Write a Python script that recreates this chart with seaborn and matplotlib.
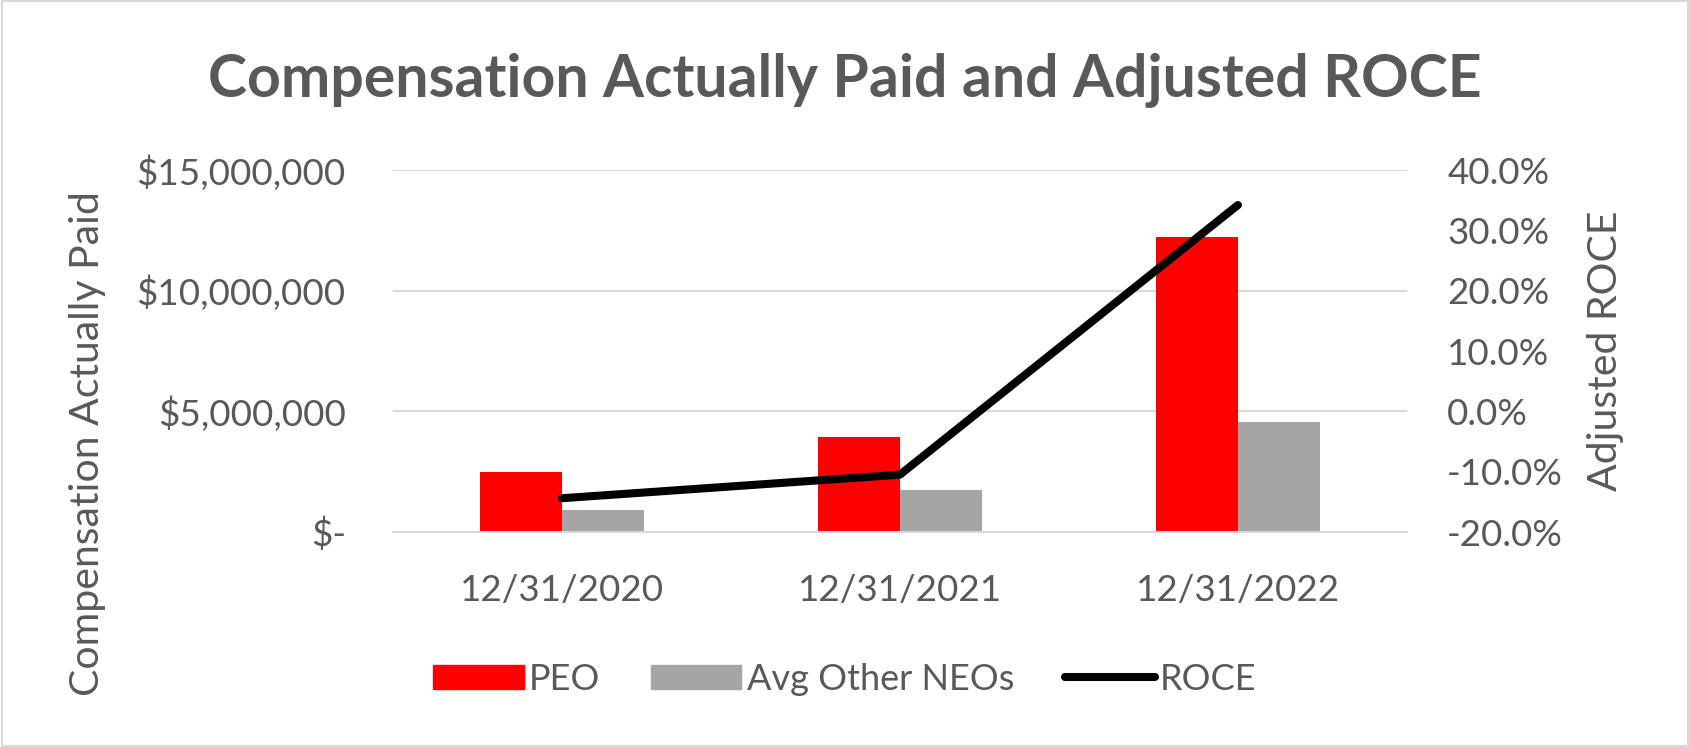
import matplotlib
matplotlib.use("Agg")
import matplotlib.pyplot as plt
import matplotlib.ticker as mtick
from matplotlib.patches import Rectangle
from matplotlib.lines import Line2D
import numpy as np
import pandas as pd
import seaborn as sns

# datos
fechas = ['12/31/2020', '12/31/2021', '12/31/2022']
peo = [2480000, 3930000, 12240000]
otros_neos = [900000, 1730000, 4540000]
roce = [-0.144, -0.105, 0.342]
series = ['PEO', 'Avg Other NEOs']
colores = ['#FF0000', '#A5A5A5']

texto = '#595959'
rejilla = '#D9D9D9'
tam = 26.5

sns.set_theme(style='white')
plt.rcParams['font.family'] = ['Lato', 'DejaVu Sans']
plt.rcParams['axes.unicode_minus'] = False

df = pd.DataFrame({
    'fecha': fechas * 2,
    'valor': peo + otros_neos,
    'serie': [series[0]] * len(fechas) + [series[1]] * len(fechas),
})

fig = plt.figure(figsize=(16.9, 7.47), dpi=100)
ax = fig.add_axes([0.2325, 0.2878, 0.6, 0.4846])

sns.barplot(data=df, x='fecha', y='valor', hue='serie', palette=colores,
            width=0.485, saturation=1, errorbar=None, linewidth=0, ax=ax)
ax.get_legend().remove()

ax2 = ax.twinx()
sns.lineplot(x=np.arange(len(fechas)), y=roce, color='black', lw=5.8,
             solid_capstyle='round', ax=ax2)

# eje izquierdo
ax.set_ylim(0, 15000000)
ax.yaxis.set_major_locator(mtick.MultipleLocator(5000000))
ax.yaxis.set_major_formatter(mtick.FuncFormatter(lambda v, p: '$-' if v == 0 else f'${v:,.0f}'))
ax.set_axisbelow(True)
ax.yaxis.grid(True, color=rejilla, lw=1.5)
ax.xaxis.grid(False)
for s in ['left', 'right', 'top']:
    ax.spines[s].set_visible(False)
ax.spines['bottom'].set_color(rejilla)
ax.spines['bottom'].set_linewidth(1.5)
ax.set_xlim(-0.5, len(fechas) - 0.5)
ax.set_xticks(np.arange(-0.5, len(fechas)), minor=True)
ax.tick_params(axis='x', which='major', length=0, pad=30, labelsize=tam, labelcolor=texto)
ax.tick_params(axis='x', which='minor', length=8, width=1.5, color=rejilla, direction='out')
ax.tick_params(axis='y', length=0, pad=34, labelsize=tam, labelcolor=texto)
ax.set_xlabel('')
ax.set_ylabel('')

# eje derecho
ax2.set_ylim(-0.2, 0.4)
ax2.yaxis.set_major_locator(mtick.MultipleLocator(0.1))
ax2.yaxis.set_major_formatter(mtick.PercentFormatter(1.0, decimals=1))
ax2.tick_params(axis='y', length=0, pad=29, labelsize=tam, labelcolor=texto)
for s in ax2.spines.values():
    s.set_visible(False)
ax2.grid(False)
ax2.set_xlabel('')
ax2.set_ylabel('')
ax.set_xlim(-0.5, len(fechas) - 0.5)

fig.text(0.5, 0.8916, 'Compensation Actually Paid and Adjusted ROCE', ha='center', va='center',
         fontsize=42.5, fontweight='bold', color=texto)
fig.text(0.052, 0.406, 'Compensation Actually Paid', rotation=90, ha='center', va='center',
         fontsize=29.5, color=texto)
fig.text(0.950, 0.531, 'Adjusted ROCE', rotation=90, ha='center', va='center',
         fontsize=29.5, color=texto)

manejadores = [
    Rectangle((0, 0), 1, 1, color=colores[0]),
    Rectangle((0, 0), 1, 1, color=colores[1]),
    Line2D([], [], color='black', lw=5.8, solid_capstyle='round'),
]
fig.legend(manejadores, series + ['ROCE'], loc='center', bbox_to_anchor=(0.5, 1 - 679 / 747),
           ncol=3, frameon=False, fontsize=26, labelcolor=texto, handlelength=2.5,
           handleheight=0.67, handletextpad=0.15, columnspacing=1.4)

fig.add_artist(Rectangle((0.001, 0.002), 0.998, 0.996, transform=fig.transFigure,
                         fill=False, edgecolor=rejilla, lw=1.5))

fig.savefig('out.png', dpi=100)
